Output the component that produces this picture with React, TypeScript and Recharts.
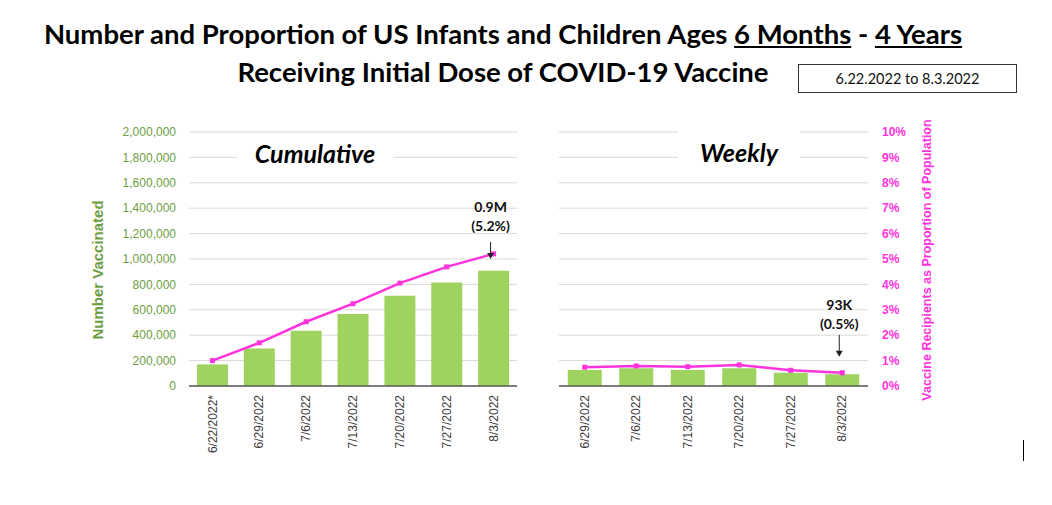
import React from 'react';
import { ComposedChart, Bar, Line, XAxis, YAxis, CartesianGrid } from 'recharts';

// cumulative panel
const cumulativeDates = ['6/22/2022*', '6/29/2022', '7/6/2022', '7/13/2022', '7/20/2022', '7/27/2022', '8/3/2022'];
const cumulativeCounts = [170000, 295000, 435000, 567000, 711000, 814000, 907000];
const cumulativePercent = [1.0, 1.7, 2.53, 3.24, 4.05, 4.69, 5.2];

// weekly panel
const weeklyDates = ['6/29/2022', '7/6/2022', '7/13/2022', '7/20/2022', '7/27/2022', '8/3/2022'];
const weeklyCounts = [126000, 140000, 126000, 140000, 105000, 93000];
const weeklyPercent = [0.74, 0.79, 0.76, 0.83, 0.62, 0.52];

const countTicks = [0, 200000, 400000, 600000, 800000, 1000000, 1200000, 1400000, 1600000, 1800000, 2000000];
const percentTicks = [0, 1, 2, 3, 4, 5, 6, 7, 8, 9, 10];

const cumulativeData = cumulativeDates.map((date, i) => ({
  date,
  count: cumulativeCounts[i],
  pct: cumulativePercent[i],
}));

const weeklyData = weeklyDates.map((date, i) => ({
  date,
  count: weeklyCounts[i],
  pct: weeklyPercent[i],
}));

const GREEN_BAR = '#9FD35F';
const GREEN_TEXT = '#6E9E44';
const MAGENTA = '#FF33DD';
const ARIAL = 'Arial, "Liberation Sans", sans-serif';
const CALIBRI = 'Lato, "Open Sans", sans-serif';

function DateTick(props: any) {
  const { x, y, payload } = props;
  return (
    <text
      x={x}
      y={y}
      transform={`rotate(-90, ${x}, ${y})`}
      textAnchor="end"
      dy="0.35em"
      fontSize={12}
      fontFamily={ARIAL}
      fill="#404040"
    >
      {payload.value}
    </text>
  );
}

function SquareDot(props: any) {
  const { cx, cy, index } = props;
  if (cx == null || cy == null) return <g key={index} />;
  return <rect key={index} x={cx - 2.5} y={cy - 2.5} width={5} height={5} fill={MAGENTA} />;
}

// callout over the last point of a line
function callout(lastIndex: number, lines: string[], textTop: number, arrowFrom: number, arrowTo: number) {
  return (props: any) => {
    const { x, y, index } = props;
    if (index !== lastIndex) return <g key={index} />;
    const cx = x - 3;
    return (
      <g key={index}>
        {lines.map((t, i) => (
          <text
            key={t}
            x={cx}
            y={y + textTop + i * 19.5}
            dy="0.35em"
            textAnchor="middle"
            fontFamily={CALIBRI}
            fontWeight={700}
            fontSize={14}
            fill="#111"
          >
            {t}
          </text>
        ))}
        <line x1={cx} y1={y + arrowFrom} x2={cx} y2={y + arrowTo - 5} stroke="#222" strokeWidth={1} />
        <polygon
          points={`${cx - 3.5},${y + arrowTo - 6} ${cx + 3.5},${y + arrowTo - 6} ${cx},${y + arrowTo}`}
          fill="#222"
        />
      </g>
    );
  };
}

export default function App() {
  return (
    <div style={{ position: 'absolute', left: 0, top: 0, width: 1052, height: 505, background: '#fff', overflow: 'hidden' }}>
      {/* Title */}
      <div
        style={{
          position: 'absolute',
          left: 0,
          width: 1006,
          top: 15,
          textAlign: 'center',
          fontFamily: CALIBRI,
          fontWeight: 700,
          fontSize: 27.5,
          lineHeight: '38px',
          color: '#000',
        }}
      >
        <div>
          Number and Proportion of US Infants and Children Ages <span style={{ textDecoration: 'underline' }}>6 Months</span> -{' '}
          <span style={{ textDecoration: 'underline' }}>4 Years</span>
        </div>
        <div>Receiving Initial Dose of COVID-19 Vaccine</div>
      </div>
      <div
        style={{
          position: 'absolute',
          left: 798,
          top: 64,
          width: 219,
          height: 29,
          border: '1px solid #333',
          boxSizing: 'border-box',
          fontFamily: CALIBRI,
          fontSize: 14.5,
          lineHeight: '27px',
          textAlign: 'center',
          color: '#111',
        }}
      >
        6.22.2022 to 8.3.2022
      </div>

      {/* Cumulative chart */}
      <div style={{ position: 'absolute', left: 0, top: 0 }}>
        <ComposedChart
          width={540}
          height={505}
          data={cumulativeData}
          margin={{ top: 132, right: 23, left: 100, bottom: 39 }}
          barCategoryGap="17%"
        >
          <CartesianGrid vertical={false} stroke="#D9D9D9" yAxisId="count" />
          <XAxis
            dataKey="date"
            height={80}
            interval={0}
            tickLine={false}
            axisLine={{ stroke: '#595959', strokeWidth: 1.3 }}
            tick={<DateTick />}
            tickMargin={3}
          />
          <YAxis
            yAxisId="count"
            width={89}
            domain={[0, 2000000]}
            ticks={countTicks}
            interval={0}
            axisLine={false}
            tickLine={false}
            tickMargin={7}
            tick={{ fill: GREEN_TEXT, fontSize: 12, fontFamily: ARIAL }}
            tickFormatter={(v: number) => v.toLocaleString('en-US')}
          />
          <YAxis yAxisId="pct" orientation="right" hide domain={[0, 10]} ticks={percentTicks} />
          <Bar yAxisId="count" dataKey="count" fill={GREEN_BAR} isAnimationActive={false} />
          <Line
            yAxisId="pct"
            dataKey="pct"
            stroke={MAGENTA}
            strokeWidth={2.5}
            dot={<SquareDot />}
            activeDot={false}
            isAnimationActive={false}
            label={callout(cumulativeData.length - 1, ['0.9M', '(5.2%)'], -47, -12, 5)}
          />
        </ComposedChart>
      </div>

      {/* Weekly chart */}
      <div style={{ position: 'absolute', left: 540, top: 0 }}>
        <ComposedChart
          width={410}
          height={505}
          data={weeklyData}
          margin={{ top: 132, right: 22, left: 19, bottom: 39 }}
          barCategoryGap="17%"
        >
          <CartesianGrid vertical={false} stroke="#D9D9D9" yAxisId="count" />
          <XAxis
            dataKey="date"
            height={80}
            interval={0}
            tickLine={false}
            axisLine={{ stroke: '#595959', strokeWidth: 1.3 }}
            tick={<DateTick />}
            tickMargin={3}
          />
          <YAxis yAxisId="count" hide domain={[0, 2000000]} ticks={countTicks} />
          <YAxis
            yAxisId="pct"
            orientation="right"
            width={60}
            domain={[0, 10]}
            ticks={percentTicks}
            interval={0}
            axisLine={false}
            tickLine={false}
            tickMargin={8}
            tick={{ fill: MAGENTA, fontSize: 12, fontWeight: 700, fontFamily: ARIAL }}
            tickFormatter={(v: number) => `${v}%`}
          />
          <Bar yAxisId="count" dataKey="count" fill={GREEN_BAR} isAnimationActive={false} />
          <Line
            yAxisId="pct"
            dataKey="pct"
            stroke={MAGENTA}
            strokeWidth={2.5}
            dot={<SquareDot />}
            activeDot={false}
            isAnimationActive={false}
            label={callout(weeklyData.length - 1, ['93K', '(0.5%)'], -68, -38, -16)}
          />
        </ComposedChart>
      </div>

      {/* panel titles */}
      <div
        style={{
          position: 'absolute',
          left: 237,
          top: 139,
          width: 156,
          height: 29,
          background: '#fff',
          textAlign: 'center',
          fontFamily: CALIBRI,
          fontStyle: 'italic',
          fontWeight: 700,
          fontSize: 25,
          lineHeight: '29px',
          color: '#000',
        }}
      >
        Cumulative
      </div>
      <div
        style={{
          position: 'absolute',
          left: 678,
          top: 127,
          width: 122,
          height: 37,
          background: '#fff',
          textAlign: 'center',
          fontFamily: CALIBRI,
          fontStyle: 'italic',
          fontWeight: 700,
          fontSize: 25,
          lineHeight: '50px',
          color: '#000',
        }}
      >
        Weekly
      </div>

      {/* axis titles */}
      <div
        style={{
          position: 'absolute',
          left: 97,
          top: 270,
          transform: 'translate(-50%, -50%) rotate(-90deg)',
          whiteSpace: 'nowrap',
          fontFamily: ARIAL,
          fontWeight: 700,
          fontSize: 15,
          color: GREEN_TEXT,
        }}
      >
        Number Vaccinated
      </div>
      <div
        style={{
          position: 'absolute',
          left: 927,
          top: 260,
          transform: 'translate(-50%, -50%) rotate(-90deg)',
          whiteSpace: 'nowrap',
          fontFamily: ARIAL,
          fontWeight: 700,
          fontSize: 12.5,
          color: MAGENTA,
        }}
      >
        Vaccine Recipients as Proportion of Population
      </div>

      {/* stray cursor mark */}
      <div style={{ position: 'absolute', left: 1023, top: 440, width: 1, height: 21, background: '#000' }} />
    </div>
  );
}
